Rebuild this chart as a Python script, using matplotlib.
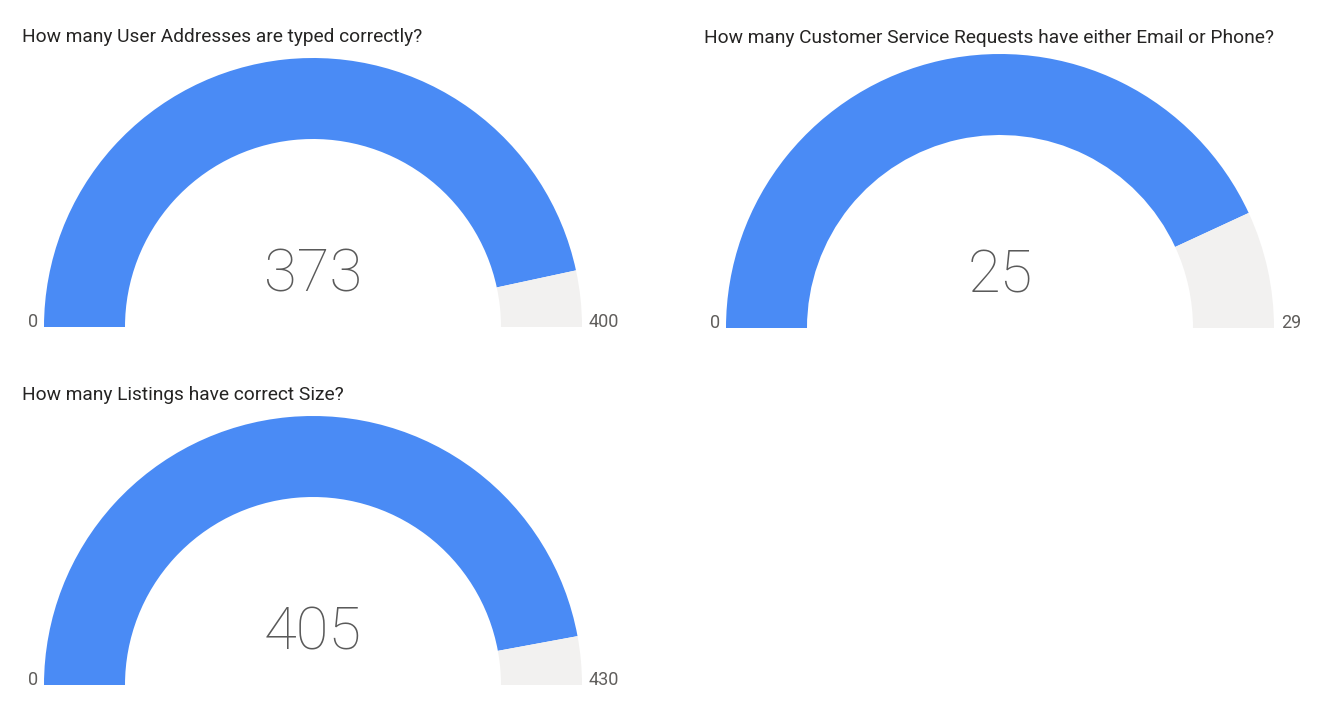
import matplotlib
matplotlib.use("Agg")
from matplotlib import pyplot as plt
from matplotlib.patches import Wedge

# gauge data
titles = [
    "How many User Addresses are typed correctly?",
    "How many Customer Service Requests have either Email or Phone?",
    "How many Listings have correct Size?",
]
values = [373, 25, 405]
minimums = [0, 0, 0]
maximums = [400, 29, 430]

# layout in pixels (x, base y, outer radius, ring width)
centers = [(313, 327), (1000, 328), (313, 685)]
radii = [269, 274, 269]
widths = [81, 81, 81]

BLUE = "#4A8BF5"
TRACK = "#F2F1F0"
TITLE_C = "#252423"
LABEL_C = "#605E5C"
NUM_C = "#5A5A5A"

W, H = 1323, 709
fig = plt.figure(figsize=(W / 100, H / 100), dpi=100)
ax = fig.add_axes([0, 0, 1, 1])
ax.set_xlim(0, W)
ax.set_ylim(H, 0)
ax.axis("off")

for title, v, lo, hi, (cx, cy), r, w in zip(titles, values, minimums, maximums,
                                            centers, radii, widths):
    f = (v - lo) / (hi - lo)
    a = 180 + 180 * f
    # y axis is flipped, so 180..360 is the upper half on screen
    ax.add_patch(Wedge((cx, cy), r, 180, a, width=w, color=BLUE, lw=0))
    ax.add_patch(Wedge((cx, cy), r, a, 360, width=w, color=TRACK, lw=0))

    ax.text(cx - r - 22, cy - 290, title, fontsize=13.8, color=TITLE_C,
            family="Roboto", ha="left", va="center")
    ax.text(cx, cy - 52, str(v), fontsize=43, color=NUM_C,
            family="Roboto", fontweight="light", ha="center", va="center")
    ax.text(cx - r - 6, cy, str(lo), fontsize=13, color=LABEL_C,
            family="Roboto", ha="right", va="baseline")
    ax.text(cx + r + 7, cy, str(hi), fontsize=13, color=LABEL_C,
            family="Roboto", ha="left", va="baseline")

fig.savefig("out.png", dpi=100)
